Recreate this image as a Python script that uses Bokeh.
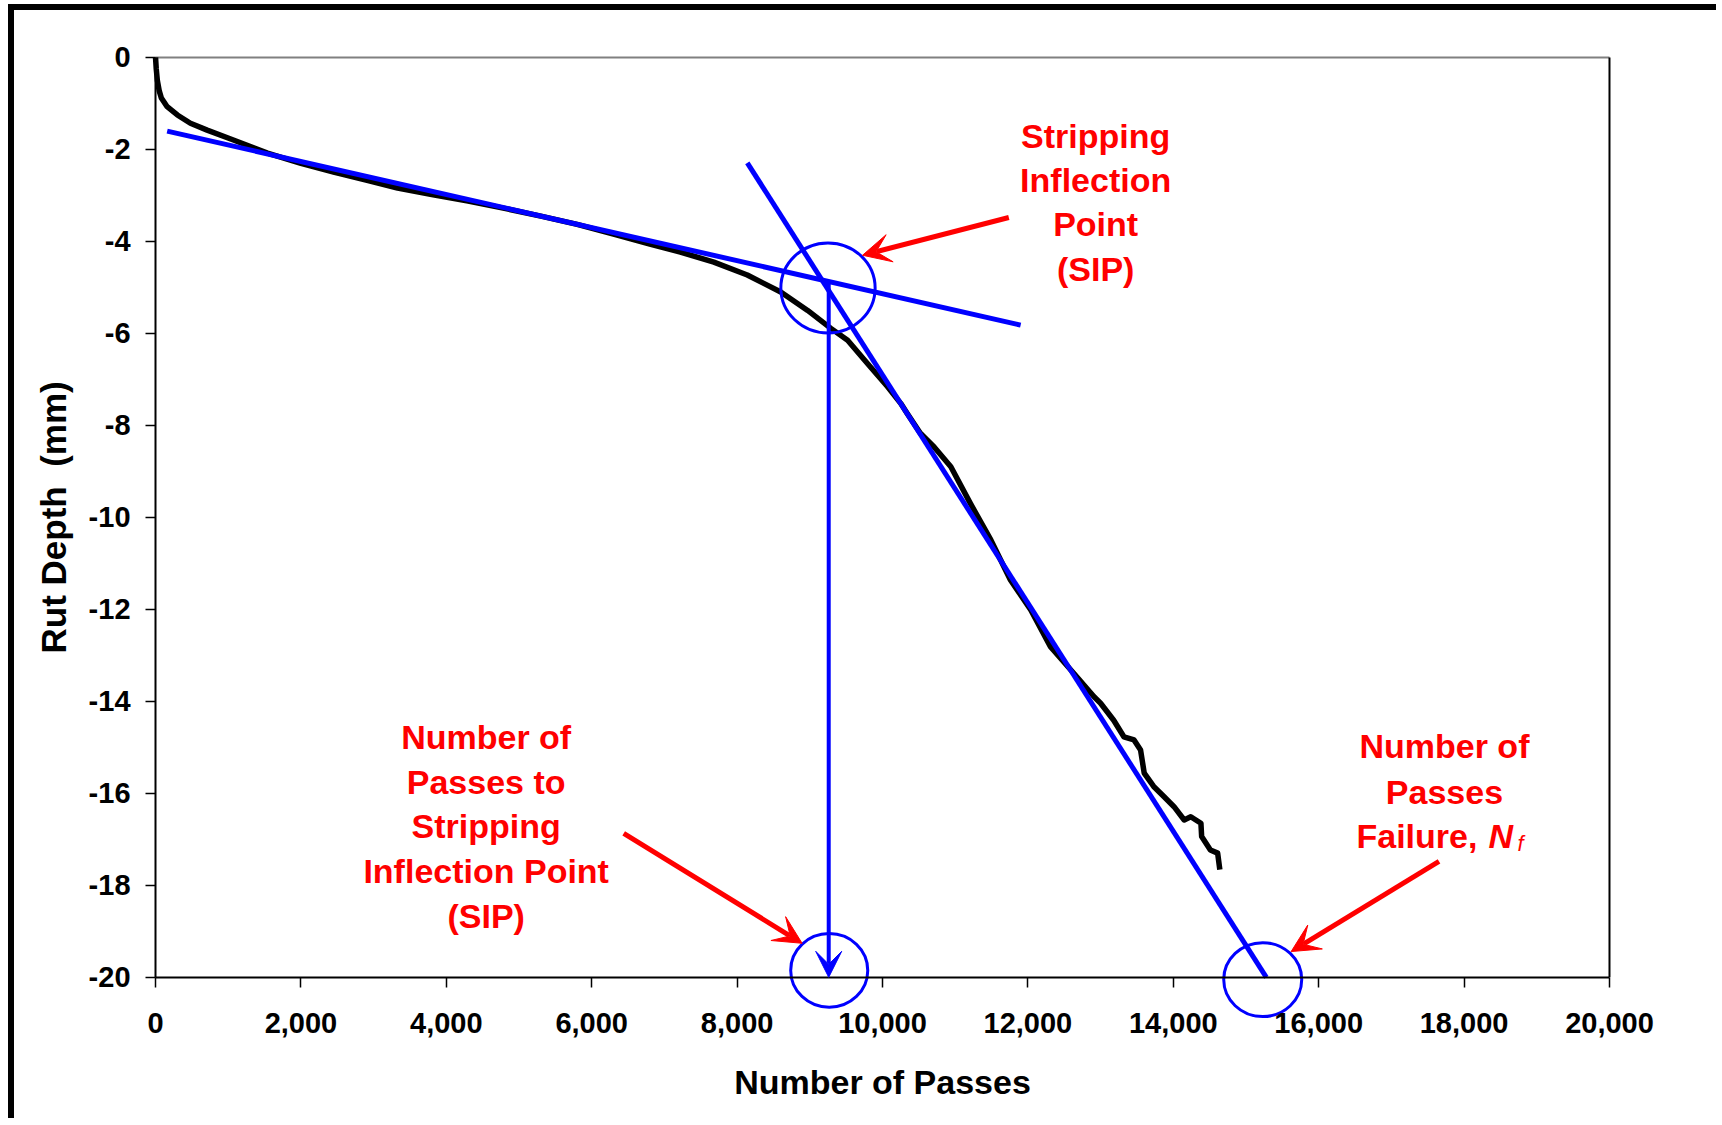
from bokeh.plotting import figure
from bokeh.models import (Range1d, NumeralTickFormatter, FixedTicker, Arrow, VeeHead,
                          Label, ColumnDataSource)
from bokeh.embed import file_html
from bokeh.resources import INLINE

# ---------------- data ----------------
passes = [0, 10, 25, 50, 80, 160, 300, 480, 710, 1080, 1540, 2000, 2450, 2910, 3330,
          3800, 4300, 4800, 5300, 5800, 6300, 6800, 7220, 7680, 8140, 8600, 8970, 9290,
          9520, 9790, 10070, 10250, 10340, 10520, 10710, 10940, 11210, 11490, 11760,
          12040, 12310, 12630, 12910, 13000, 13180, 13320, 13460, 13550, 13600, 13730,
          13870, 14010, 14150, 14240, 14380, 14390, 14510, 14610, 14640]
rut_depth = [0, -0.25, -0.5, -0.72, -0.88, -1.07, -1.25, -1.43, -1.58, -1.80, -2.08, -2.30,
             -2.49, -2.67, -2.84, -2.98, -3.12, -3.28, -3.45, -3.63, -3.84, -4.06, -4.23,
             -4.45, -4.73, -5.10, -5.50, -5.89, -6.15, -6.65, -7.16, -7.52, -7.74, -8.17,
             -8.47, -8.90, -9.70, -10.49, -11.36, -12.01, -12.81, -13.39, -13.90, -14.04,
             -14.41, -14.77, -14.84, -15.06, -15.56, -15.85, -16.07, -16.29, -16.58, -16.51,
             -16.65, -16.94, -17.23, -17.30, -17.66]

# fitted tangent lines (end points)
fit1_x = [160, 11900]
fit1_y = [-1.60, -5.82]
fit2_x = [8140, 15280]
fit2_y = [-2.29, -20.0]

# stripping inflection point
sip_passes = 9260
sip_depth = -4.88

x_ticks = [0, 2000, 4000, 6000, 8000, 10000, 12000, 14000, 16000, 18000, 20000]
y_ticks = [0, -2, -4, -6, -8, -10, -12, -14, -16, -18, -20]

# circles: centre x, centre y, width, height
circ_x = [9250, 9267, 15230]
circ_y = [-5.01, -19.85, -20.05]
circ_w = [1297, 1060, 1073]
circ_h = [1.96, 1.60, 1.61]

note_sip = ["Stripping", "Inflection", "Point", "(SIP)"]
note_passes = ["Number of", "Passes to", "Stripping", "Inflection Point", "(SIP)"]
note_nf = ["Number of", "Passes"]

FONT = "Liberation Sans"
RED = "#FF0000"
BLUE = "#0000FF"
X_MIN, X_MAX = 0, 20000
Y_MIN, Y_MAX = -20, 0
# the frame covers the whole canvas, so nothing beside the axes is clipped
X_VIEW = (-1940, 21472)
Y_VIEW = (-23.07, 1.0)

# ---------------- figure ----------------
p = figure(frame_width=1702, frame_height=1107,
           min_border_left=0, min_border_right=0, min_border_top=1, min_border_bottom=0,
           x_range=Range1d(*X_VIEW), y_range=Range1d(*Y_VIEW),
           output_backend="svg", toolbar_location=None)
p.styles = {"border-top": "6px solid black", "border-left": "6px solid black",
            "margin-top": "4px", "margin-left": "8px"}
p.background_fill_color = "white"
p.border_fill_color = "white"
p.outline_line_color = None
p.xgrid.visible = False
p.ygrid.visible = False

for ax in (p.xaxis[0], p.yaxis[0]):
    ax.axis_line_color = "black"
    ax.axis_line_width = 2
    ax.major_tick_line_color = "black"
    ax.major_tick_line_width = 1.5
    ax.major_tick_out = 10
    ax.major_tick_in = 0
    ax.minor_tick_line_color = None
    ax.major_label_text_font = FONT
    ax.major_label_text_font_style = "bold"
    ax.major_label_text_font_size = "29px"
    ax.major_label_text_color = "black"

p.xaxis.fixed_location = Y_MIN
p.yaxis.fixed_location = X_MIN
p.xaxis.bounds = (X_MIN, X_MAX)
p.yaxis.bounds = (Y_MIN, Y_MAX)
p.xaxis.ticker = FixedTicker(ticks=x_ticks)
p.yaxis.ticker = FixedTicker(ticks=y_ticks)
p.xaxis.formatter = NumeralTickFormatter(format="0,0")
p.yaxis.major_label_overrides = {v: str(v) for v in y_ticks}
p.xaxis.major_label_standoff = 26
p.yaxis.major_label_standoff = 15

# axis titles
p.add_layout(Label(x=(X_MIN + X_MAX) / 2, y=-22.27, text="Number of Passes",
                   text_align="center", text_baseline="middle", text_font=FONT,
                   text_font_style="bold", text_font_size="34px", text_color="black"))
p.add_layout(Label(x=-1404, y=(Y_MIN + Y_MAX) / 2, text="Rut Depth\u00a0 (mm)", angle=90,
                   angle_units="deg", text_align="center", text_baseline="middle",
                   text_font=FONT, text_font_style="bold", text_font_size="35px",
                   text_color="black"))

# plot-area border (top grey, right black)
p.line([X_MIN, X_MAX], [Y_MAX, Y_MAX], line_color="#808080", line_width=2)
p.line([X_MAX, X_MAX], [Y_MAX, Y_MIN], line_color="black", line_width=2)

# data curve
src = ColumnDataSource(dict(x=passes, y=rut_depth))
p.line("x", "y", source=src, line_color="black", line_width=5.5, line_join="round")

# tangent lines
p.line(fit1_x, fit1_y, line_color=BLUE, line_width=5)
p.line(fit2_x, fit2_y, line_color=BLUE, line_width=5)

# vertical arrow from SIP down to the axis
p.add_layout(Arrow(end=VeeHead(size=26, fill_color=BLUE, line_color=BLUE),
                   x_start=sip_passes, y_start=sip_depth, x_end=sip_passes, y_end=Y_MIN,
                   line_color=BLUE, line_width=4))

# circles
p.ellipse(x=circ_x, y=circ_y, width=circ_w, height=circ_h,
          fill_color=None, line_color=BLUE, line_width=3)

# red arrows
red_arrows = [((11737, -3.48), (9725, -4.30)),
              ((6440, -16.87), (8894, -19.26)),
              ((17655, -17.48), (15621, -19.44))]
for (xs, ys), (xe, ye) in red_arrows:
    p.add_layout(Arrow(end=VeeHead(size=28, fill_color=RED, line_color=RED),
                       x_start=xs, y_start=ys, x_end=xe, y_end=ye,
                       line_color=RED, line_width=5))

def note(lines, x, y0, dy):
    for i, s in enumerate(lines):
        p.add_layout(Label(x=x, y=y0 - i * dy, text=s, text_align="center",
                           text_baseline="middle", text_font=FONT, text_font_style="bold",
                           text_font_size="34px", text_color=RED))

note(note_sip, 12932, -1.71, 0.96)
note(note_passes, 4548, -14.78, 0.97)
note(note_nf, 17730, -14.98, 1.0)

# "Failure, N f" line
p.add_layout(Label(x=17730, y=-16.92, x_offset=-88, text="Failure,", text_align="left",
                   text_baseline="middle", text_font=FONT, text_font_style="bold",
                   text_font_size="34px", text_color=RED))
p.add_layout(Label(x=17730, y=-16.92, x_offset=44, text="N", text_align="left",
                   text_baseline="middle", text_font=FONT, text_font_style="bold italic",
                   text_font_size="34px", text_color=RED))
p.add_layout(Label(x=17730, y=-16.92, x_offset=73, y_offset=-8, text="f", text_align="left",
                   text_baseline="middle", text_font=FONT, text_font_style="italic",
                   text_font_size="22px", text_color=RED))

open("out.html", "w").write(file_html(p, INLINE))
